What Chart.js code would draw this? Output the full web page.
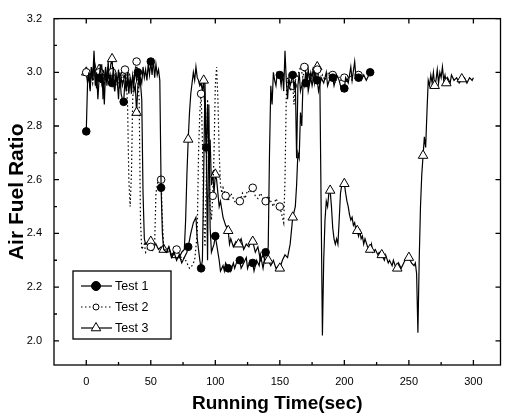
<!DOCTYPE html>
<html><head><meta charset="utf-8">
<script src="https://cdn.jsdelivr.net/npm/chart.js@4/dist/chart.umd.min.js"></script>
<style>html,body{margin:0;padding:0;background:#fff}#wrap{width:507px;height:416px;position:relative}</style>
</head><body><div id="wrap"><canvas id="c"></canvas></div>
<script>
// ---- tick values ----
const xTicks = [0, 50, 100, 150, 200, 250, 300];
const xMinorTicks = [25, 75, 125, 175, 225, 275];
const yTicks = [2.0, 2.2, 2.4, 2.6, 2.8, 3.0, 3.2];
const yMinorTicks = [2.1, 2.3, 2.5, 2.7, 2.9, 3.1];
const xLabel = 'Running Time(sec)';
const yLabel = 'Air Fuel Ratio';
const seriesNames = ['Test 1', 'Test 2', 'Test 3'];

// ---- Test 1 : [time s, air fuel ratio] ----
const test1 = [[0,2.78],[1,2.96],[2,3.00],[3,2.93],[4,3.02],[5,2.97],[6,3.05],[7,2.95],[8,3.00],[9,2.90],
[10,2.98],[11,3.03],[12,2.96],[13,2.99],[14,2.88],[15,3.01],[16,2.97],[17,3.04],[18,2.95],[19,2.99],
[20,2.96],[21,3.02],[22,2.93],[23,2.98],[24,2.97],[25,2.90],[26,3.00],[27,2.92],[28,2.90],[29,2.89],
[30,2.97],[31,2.93],[32,3.00],[33,2.95],[34,2.97],[35,2.92],[36,2.99],[37,2.96],[38,3.01],[39,2.97],
[40,3.00],[41,2.95],[42,2.98],[43,2.96],[44,3.02],[45,2.98],[46,3.01],[47,2.97],[48,3.03],[49,2.99],
[50,3.04],[51,2.99],[52,3.05],[53,2.98],[54,3.03],[55,2.99],[56,3.01],[57,2.97],
[58,2.57],[59,2.40],[60,2.34],[62,2.33],[64,2.35],[66,2.31],[68,2.33],[70,2.30],[72,2.32],[74,2.29],[76,2.31],[78,2.33],
[79,2.35],[81,2.40],[83,2.44],[85,2.46],[86,2.38],[88,2.30],[89,2.27],[90,2.30],[91,2.62],[92,2.96],[93,2.72],[94,2.30],
[95,2.88],[96,2.42],[97,2.33],[99,2.36],[100,2.39],[101,2.36],[103,2.30],[104,2.26],[106,2.28],[107,2.26],[108,2.29],
[110,2.27],[111,2.28],[112,2.26],[114,2.29],[115,2.27],[117,2.30],[119,2.30],[120,2.27],[122,2.29],[124,2.31],[125,2.27],
[127,2.30],[129,2.29],[130,2.26],[132,2.30],[134,2.28],[135,2.32],[137,2.27],[139,2.33],[140,2.32],[141,2.35],[142,2.70],
[143,2.95],[144,2.88],[145,3.00],[146,2.97],[147,2.95],[148,3.00],[150,2.99],[151,2.95],[152,3.00],[153,2.93],[154,3.08],
[155,2.97],[156,2.90],[157,2.98],[158,2.95],[160,2.99],[161,2.94],[162,2.97],[163,2.68],[164,2.95],[165,3.00],[166,2.93],
[168,2.97],[170,2.96],[171,3.00],[172,2.93],[174,2.98],[175,2.95],[177,3.00],[179,2.97],[180,2.93],[182,2.98],[184,2.96],
[186,3.00],[187,2.95],[189,2.98],[191,2.98],[192,2.95],[194,2.99],[196,2.97],[198,2.93],[200,2.94],[201,2.98],[203,2.96],
[205,3.02],[206,2.97],[208,3.04],[209,2.98],[211,2.98],[213,2.97],[215,2.99],[217,2.97],[219,2.99],[220,3.00]];
const test1Marks = [0,10,20,29,40,50,58,79,89,93,100,110,119,129,139,150,160,170,179,191,200,211,220];

// ---- Test 2 ----
const test2 = [[0,3.00],[1,2.97],[2,2.99],[3,2.95],[4,3.00],[5,2.96],[6,2.99],[7,3.02],[8,2.96],[9,2.98],
[10,3.00],[12,2.97],[13,3.01],[14,2.96],[16,2.99],[17,3.02],[18,2.97],[20,3.00],[21,2.96],[23,2.99],[24,2.95],
[26,2.98],[27,3.00],[28,2.96],[30,3.01],[31,2.97],[32,2.88],[33,2.60],[34,2.50],[35,2.62],[36,2.90],[37,2.98],
[38,3.00],[39,3.04],[40,2.97],[41,2.90],[42,2.45],[43,2.34],[45,2.36],[46,2.33],[48,2.35],[50,2.35],[51,2.33],
[53,2.36],[54,2.55],[56,2.61],[58,2.60],[59,2.45],[60,2.35],[62,2.33],[64,2.34],[66,2.31],[68,2.33],[70,2.34],
[72,2.31],[74,2.30],[76,2.31],[78,2.29],[80,2.27],[82,2.28],[84,2.30],[86,2.40],[87,2.70],[88,2.85],[89,2.92],
[90,2.75],[91,2.45],[92,2.35],[93,2.60],[94,2.90],[95,2.70],[96,2.50],[97,2.45],[98,2.54],[99,2.70],[100,2.95],
[101,3.02],[102,2.90],[103,2.70],[104,2.58],[105,2.55],[106,2.57],[108,2.54],[110,2.52],[112,2.55],[114,2.53],
[116,2.51],[118,2.53],[119,2.52],[121,2.55],[123,2.53],[125,2.56],[127,2.55],[129,2.57],[131,2.54],[133,2.53],
[135,2.55],[137,2.53],[139,2.52],[141,2.54],[143,2.52],[145,2.50],[147,2.53],[149,2.51],[150,2.50],[152,2.46],
[153,2.44],[154,2.60],[155,2.91],[156,2.98],[158,2.93],[160,2.95],[161,2.88],[162,2.97],[164,2.99],[166,3.02],
[168,2.98],[169,3.02],[171,2.97],[173,3.00],[175,2.96],[177,2.99],[179,3.01],[181,2.97],[183,2.99],[185,2.97],
[187,3.00],[189,2.98],[191,2.99],[193,2.96],[195,2.99],[197,2.97],[200,2.98],[202,2.96],[204,2.99],[206,2.97],
[209,2.98],[211,2.99]];
const test2Marks = [0,10,20,30,39,50,58,70,89,98,108,119,129,139,150,160,169,179,191,200,211];

// ---- Test 3 ----
const test3 = [[0,3.00],[1,2.96],[2,2.99],[3,2.94],[4,3.02],[5,2.97],[6,3.08],[7,2.98],[8,2.94],[9,3.00],
[10,3.01],[11,2.96],[12,3.03],[13,2.90],[14,2.98],[15,3.02],[16,2.95],[17,3.00],[18,2.97],[19,3.03],
[20,3.05],[21,2.97],[22,2.93],[23,3.00],[24,2.96],[25,3.01],[26,2.94],[27,2.98],[28,2.95],[29,2.97],
[30,3.00],[31,2.94],[32,2.97],[33,2.92],[34,2.98],[35,2.95],[36,2.99],[37,2.93],[38,2.95],[39,2.85],
[40,2.95],[41,2.99],[42,2.96],[43,2.90],[44,2.55],[45,2.38],[46,2.36],[48,2.37],[50,2.37],[52,2.35],
[54,2.36],[56,2.34],[58,2.35],[60,2.34],[62,2.33],[64,2.35],[66,2.32],[68,2.33],[70,2.32],[72,2.31],
[74,2.33],[76,2.34],[77,2.45],[78,2.62],[79,2.75],[80,2.85],[81,2.92],[82,2.96],[83,3.00],[84,2.97],
[85,3.02],[86,2.98],[87,2.97],[88,2.95],[89,2.96],[90,2.93],[91,2.97],[92,2.85],[93,2.70],[94,2.88],
[95,2.65],[96,2.75],[97,2.58],[98,2.63],[99,2.55],[100,2.62],[101,2.60],[102,2.55],[103,2.50],[104,2.52],
[106,2.46],[108,2.43],[110,2.41],[111,2.36],[112,2.38],[114,2.35],[116,2.37],[118,2.36],[120,2.38],[122,2.34],
[124,2.36],[126,2.35],[128,2.38],[129,2.37],[131,2.33],[133,2.35],[135,2.30],[137,2.32],[139,2.29],[141,2.30],
[143,2.28],[145,2.30],[147,2.27],[149,2.28],[150,2.27],[152,2.30],[154,2.32],[156,2.31],[158,2.36],[160,2.46],
[162,2.50],[163,2.58],[164,2.70],[165,2.68],[166,2.85],[167,2.80],[168,2.97],[169,2.95],[170,3.00],[171,2.96],
[172,3.01],[173,2.97],[174,3.00],[175,2.98],[176,3.02],[177,2.96],[178,2.99],[179,3.02],[180,2.97],[181,2.98],
[182,2.50],[183,2.02],[184,2.30],[185,2.45],[186,2.52],[187,2.50],[188,2.55],[189,2.56],[190,2.50],[191,2.42],
[192,2.38],[193,2.36],[194,2.38],[195,2.36],[196,2.45],[197,2.55],[198,2.58],[200,2.585],[201,2.55],[202,2.52],
[203,2.50],[204,2.47],[205,2.45],[206,2.46],[207,2.43],[208,2.44],[209,2.41],[210,2.41],[211,2.39],[212,2.41],
[213,2.38],[214,2.39],[215,2.36],[216,2.38],[218,2.35],[220,2.34],[221,2.36],[222,2.33],[224,2.34],[226,2.32],
[227,2.33],[229,2.32],[231,2.30],[232,2.32],[234,2.29],[235,2.30],[237,2.28],[238,2.30],[240,2.27],[241,2.27],
[242,2.29],[244,2.27],[246,2.29],[248,2.31],[250,2.31],[252,2.29],[254,2.28],[255,2.29],[256,2.25],[257,2.03],
[258,2.30],[259,2.50],[260,2.62],[261,2.69],[262,2.76],[263,2.72],[264,2.85],[265,2.97],[266,2.95],[267,2.99],
[268,2.96],[269,3.00],[270,2.95],[271,2.97],[272,3.01],[273,2.96],[274,3.00],[275,2.98],[276,3.02],[277,2.97],
[278,2.99],[279,2.96],[280,2.98],[282,2.96],[283,2.99],[285,2.97],[287,2.98],[289,2.96],[291,2.975],[293,2.98],
[295,2.96],[297,2.98],[299,2.97],[300,2.98]];
const test3Marks = [0,10,20,30,39,50,60,70,79,91,100,110,118,129,141,150,160,179,189,200,210,220,229,241,250,261,270,279,291];

const FONT = '"Liberation Sans", Arial, sans-serif';

function toXY(arr) { return arr.map(p => ({x: p[0], y: p[1]})); }
function markR(list, r) {
  const s = new Set(list);
  return ctx => (ctx.raw && s.has(ctx.raw.x)) ? r : 0;
}

const framePlugin = {
  id: 'frameTicks',
  afterDraw(chart) {
    const {ctx, chartArea: a, scales: {x, y}} = chart;
    ctx.save();
    ctx.strokeStyle = '#000';
    ctx.lineWidth = 1.3;
    ctx.strokeRect(a.left, a.top, a.right - a.left, a.bottom - a.top);
    ctx.beginPath();
    xTicks.forEach(v => {
      const p = x.getPixelForValue(v);
      ctx.moveTo(p, a.bottom); ctx.lineTo(p, a.bottom - 5);
      ctx.moveTo(p, a.top); ctx.lineTo(p, a.top + 5);
    });
    xMinorTicks.forEach(v => {
      const p = x.getPixelForValue(v);
      ctx.moveTo(p, a.bottom); ctx.lineTo(p, a.bottom - 3);
    });
    yTicks.forEach(v => {
      const p = y.getPixelForValue(v);
      ctx.moveTo(a.left, p); ctx.lineTo(a.left + 5, p);
      ctx.moveTo(a.right, p); ctx.lineTo(a.right - 5, p);
    });
    yMinorTicks.forEach(v => {
      const p = y.getPixelForValue(v);
      ctx.moveTo(a.left, p); ctx.lineTo(a.left + 3, p);
    });
    ctx.stroke();
    ctx.restore();
  }
};

const legendPlugin = {
  id: 'boxLegend',
  afterDraw(chart) {
    const ctx = chart.ctx;
    const bx = 73, by = 271, bw = 98, bh = 68;
    ctx.save();
    ctx.fillStyle = '#fff';
    ctx.fillRect(bx, by, bw, bh);
    ctx.strokeStyle = '#000';
    ctx.lineWidth = 1.3;
    ctx.strokeRect(bx, by, bw, bh);
    chart.data.datasets.forEach((ds, i) => {
      const cy = by + 15 + i * 21;
      ctx.beginPath();
      ctx.setLineDash(ds.borderDash || []);
      ctx.lineWidth = ds.borderWidth;
      ctx.strokeStyle = ds.borderColor;
      ctx.moveTo(bx + 8, cy); ctx.lineTo(bx + 39, cy);
      ctx.stroke();
      ctx.setLineDash([]);
      ctx.fillStyle = ds.pointBackgroundColor;
      ctx.strokeStyle = ds.pointBorderColor;
      ctx.lineWidth = 1;
      Chart.helpers.drawPoint(ctx, {pointStyle: ds.pointStyle, radius: ds.legendRadius, borderWidth: 1, rotation: 0}, bx + 23, cy);
      ctx.fillStyle = '#000';
      ctx.font = '12.5px ' + FONT;
      ctx.textBaseline = 'middle';
      ctx.textAlign = 'left';
      ctx.fillText(ds.label, bx + 42, cy + 1);
    });
    ctx.restore();
  }
};

new Chart(document.getElementById('c'), {
  type: 'line',
  data: {
    datasets: [
      { label: seriesNames[0], data: toXY(test1), borderColor: '#000', borderWidth: 1.2,
        pointStyle: 'circle', pointBackgroundColor: '#000', pointBorderColor: '#000', pointBorderWidth: 1,
        pointRadius: markR(test1Marks, 3.8), legendRadius: 4.5, tension: 0 },
      { label: seriesNames[1], data: toXY(test2), borderColor: '#000', borderWidth: 1.2, borderDash: [1.5, 2.5],
        pointStyle: 'circle', pointBackgroundColor: '#fff', pointBorderColor: '#000', pointBorderWidth: 1,
        pointRadius: markR(test2Marks, 3.8), legendRadius: 3, tension: 0 },
      { label: seriesNames[2], data: toXY(test3), borderColor: '#000', borderWidth: 1.2,
        pointStyle: 'triangle', pointBackgroundColor: '#fff', pointBorderColor: '#000', pointBorderWidth: 1,
        pointRadius: markR(test3Marks, 5.5), legendRadius: 5.5, tension: 0 }
    ]
  },
  options: {
    responsive: true,
    maintainAspectRatio: false,
    animation: false,
    events: [],
    layout: { padding: { left: 0, top: 12, right: 2, bottom: 0 } },
    plugins: { legend: { display: false }, tooltip: { enabled: false } },
    scales: {
      x: {
        type: 'linear', min: -25, max: 321,
        afterBuildTicks: s => { s.ticks = xTicks.map(v => ({value: v})); },
        afterFit: s => { s.height = 51; },
        grid: { display: false, drawTicks: false },
        border: { display: false },
        ticks: { padding: 10, color: '#000', font: { family: FONT, size: 11 }, maxRotation: 0,
                 callback: v => String(v) },
        title: { display: true, text: xLabel, color: '#000', padding: { top: 0, bottom: 1 },
                 font: { family: FONT, size: 19, weight: 'bold' } }
      },
      y: {
        type: 'linear', min: 1.91, max: 3.2,
        afterBuildTicks: s => { s.ticks = yTicks.map(v => ({value: v})); },
        afterFit: s => { s.width = 54; },
        grid: { display: false, drawTicks: false },
        border: { display: false },
        ticks: { padding: 12, color: '#000', font: { family: FONT, size: 11 },
                 callback: v => Number(v).toFixed(1) },
        title: { display: true, text: yLabel, color: '#000', padding: { top: 5, bottom: 0 },
                 font: { family: FONT, size: 21, weight: 'bold' } }
      }
    }
  },
  plugins: [framePlugin, legendPlugin]
});
</script>
</body></html>
